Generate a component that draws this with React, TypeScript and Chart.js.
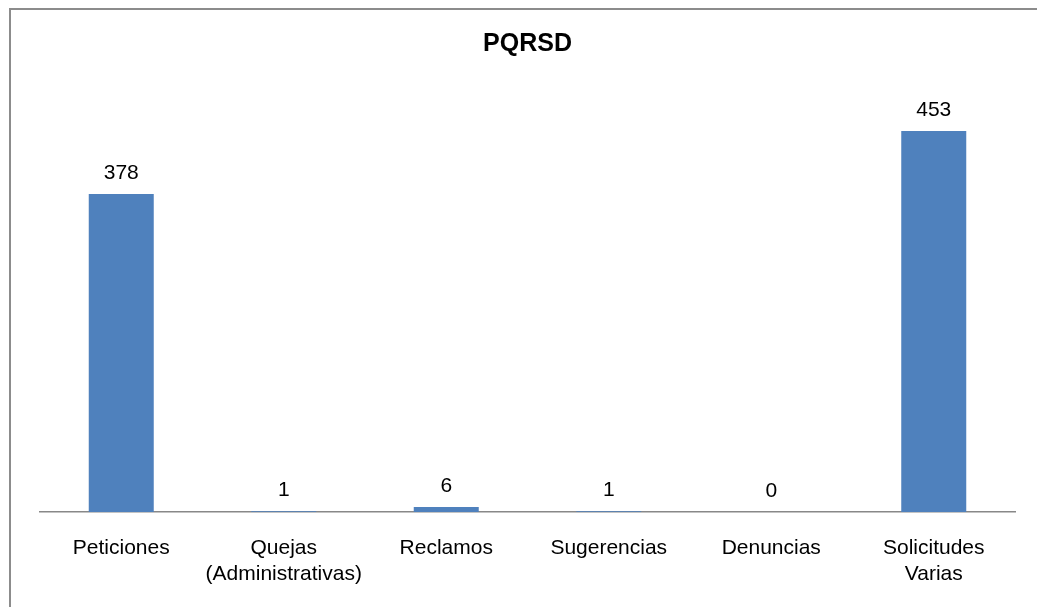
import React, { useEffect, useRef } from "react";
import { Chart, registerables } from "chart.js";

Chart.register(...registerables);

// PQRSD counts by request type
const categories: (string | string[])[] = [
  "Peticiones",
  ["Quejas", "(Administrativas)"],
  "Reclamos",
  "Sugerencias",
  "Denuncias",
  ["Solicitudes", "Varias"],
];
const counts: number[] = [378, 1, 6, 1, 0, 453];
const chartTitle = "PQRSD";

const FONT = "'Liberation Sans', Arial, sans-serif";
const BAR_COLOR = "#4F81BD";

// Outer frame around the chart, like an embedded office chart object
const framePlugin = {
  id: "frame",
  beforeDraw(chart: Chart) {
    const { ctx, width, height } = chart;
    ctx.save();
    ctx.fillStyle = "#ffffff";
    ctx.fillRect(0, 0, width, height);
    ctx.strokeStyle = "#8c8c8c";
    ctx.lineWidth = 2;
    ctx.beginPath();
    ctx.moveTo(10, height);
    ctx.lineTo(10, 9);
    ctx.lineTo(width, 9);
    ctx.stroke();
    ctx.restore();
  },
};

// Value labels above each bar
const valueLabels = {
  id: "valueLabels",
  afterDatasetsDraw(chart: Chart) {
    const { ctx } = chart;
    ctx.save();
    ctx.font = `21px ${FONT}`;
    ctx.fillStyle = "#000000";
    ctx.textAlign = "center";
    ctx.textBaseline = "alphabetic";
    chart.data.datasets.forEach((ds, di) => {
      const meta = chart.getDatasetMeta(di);
      meta.data.forEach((bar: any, i: number) => {
        const v = ds.data[i] as number;
        ctx.fillText(String(v), bar.x, bar.y - 15);
      });
    });
    ctx.restore();
  },
};

export default function App() {
  const canvasRef = useRef<HTMLCanvasElement | null>(null);

  useEffect(() => {
    if (!canvasRef.current) return;
    const chart = new Chart(canvasRef.current, {
      type: "bar",
      data: {
        labels: categories,
        datasets: [
          {
            label: chartTitle,
            data: counts,
            backgroundColor: BAR_COLOR,
            borderWidth: 0,
            barPercentage: 0.4,
            categoryPercentage: 1,
          },
        ],
      },
      options: {
        responsive: false,
        animation: false,
        layout: { padding: { left: 40, right: 22, top: 0, bottom: 21 } },
        plugins: {
          legend: { display: false },
          tooltip: { enabled: false },
          title: {
            display: true,
            text: chartTitle,
            color: "#000000",
            font: { family: FONT, size: 25, weight: "bold" },
            padding: { top: 29, bottom: 32.5 },
          },
        },
        scales: {
          x: {
            grid: { display: false },
            border: { display: true, color: "#888888", width: 1.5 },
            ticks: {
              color: "#000000",
              font: { family: FONT, size: 21 },
              padding: 16,
              maxRotation: 0,
              autoSkip: false,
            },
            afterFit(scale: any) {
              scale.height = 74;
            },
          },
          y: {
            display: false,
            min: 0,
            max: 500,
          },
        },
      },
      plugins: [framePlugin, valueLabels],
    });
    return () => chart.destroy();
  }, []);

  return (
    <div style={{ position: "fixed", left: 0, top: 0, width: 1037, height: 607, background: "#fff" }}>
      <canvas ref={canvasRef} width={1037} height={607} style={{ display: "block" }} />
    </div>
  );
}
